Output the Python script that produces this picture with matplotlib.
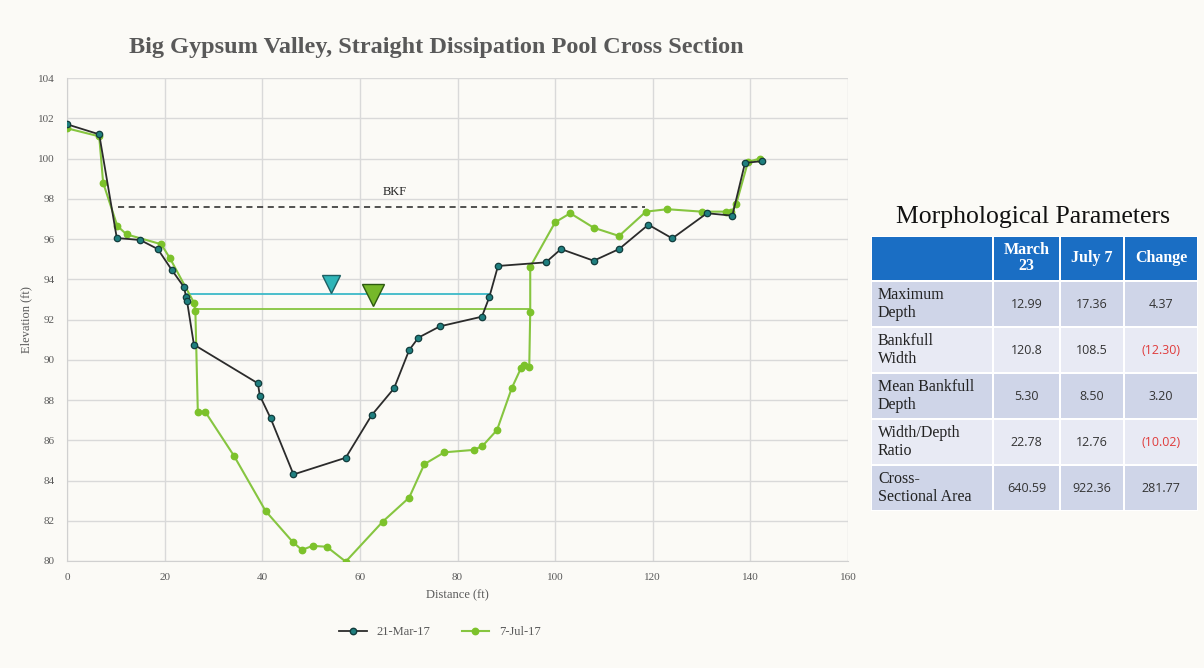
import matplotlib.pyplot as plt
from matplotlib.patches import Rectangle
from matplotlib.lines import Line2D

# ---- survey data ----
mar_x = [0, 6.6, 10.2, 15.0, 18.6, 21.5, 24.0, 24.4, 24.6, 26.0, 39.1, 39.5, 41.7, 46.4,
         57.1, 62.4, 67.0, 70.1, 72.0, 76.4, 85.0, 86.5, 88.3, 98.1, 101.2, 107.9,
         113.1, 119.1, 124.0, 131.1, 136.3, 138.9, 142.4]
mar_y = [101.7, 101.2, 96.05, 95.95, 95.5, 94.45, 93.6, 93.1, 92.9, 90.75, 88.83, 88.22,
         87.1, 84.3, 85.13, 87.24, 88.58, 90.48, 91.1, 91.66, 92.14, 93.1, 94.66, 94.84,
         95.5, 94.92, 95.5, 96.71, 96.03, 97.28, 97.16, 99.78, 99.87]

jul_x = [0, 6.6, 7.4, 10.3, 12.2, 19.3, 21.1, 26.0, 26.3, 26.8, 28.3, 34.2, 40.7, 46.2,
         48.1, 50.3, 53.2, 57.1, 64.7, 70.1, 73.2, 77.3, 83.3, 85.1, 88.1, 91.1, 93.0,
         93.7, 94.7, 94.9, 94.9, 100.0, 103.1, 107.9, 113.1, 118.6, 123.0, 130.0, 135.0,
         136.1, 137.1, 139.5, 142.0]
jul_y = [101.5, 101.1, 98.8, 96.65, 96.23, 95.74, 95.04, 92.84, 92.42, 87.42, 87.42,
         85.23, 82.48, 80.96, 80.55, 80.75, 80.71, 79.97, 81.96, 83.15, 84.81, 85.4,
         85.52, 85.71, 86.51, 88.58, 89.58, 89.74, 89.66, 92.39, 94.62, 96.83, 97.28,
         96.56, 96.15, 97.36, 97.48, 97.36, 97.36, 97.33, 97.74, 99.83, 100.0]

bkf_x = [10.4, 118.4]
bkf_y = 97.6
bkf_label_x = 67.2
mar_wse_x = [24.4, 86.5]
mar_wse = 93.27
mar_tri_x = 54.1
jul_wse_x = [26.3, 94.9]
jul_wse = 92.52
jul_tri_x = 62.7

# ---- table data ----
tbl_title = "Morphological Parameters"
col_heads = ["", "March\n23", "July 7", "Change"]
row_names = ["Maximum\nDepth", "Bankfull\nWidth", "Mean Bankfull\nDepth",
             "Width/Depth\nRatio", "Cross-\nSectional Area"]
march_vals = ["12.99", "120.8", "5.30", "22.78", "640.59"]
july_vals = ["17.36", "108.5", "8.50", "12.76", "922.36"]
change_vals = ["4.37", "(12.30)", "3.20", "(10.02)", "281.77"]

BG = "#fbfaf6"
SERIF = ["Liberation Serif", "DejaVu Serif"]
SANS = ["Open Sans", "DejaVu Sans"]

fig = plt.figure(figsize=(12.04, 6.68), dpi=100, facecolor=BG)
ax = fig.add_axes([67 / 1204, 1 - 561 / 668, 781 / 1204, 483 / 668])
ax.set_facecolor(BG)

ax.plot(bkf_x, [bkf_y, bkf_y], color="#222222", ls=(0, (4, 3)), lw=1.1)
ax.text(bkf_label_x, bkf_y + 0.45, "BKF", fontsize=9, family=SERIF, ha="center",
        va="bottom", color="#222222")
ax.plot(mar_wse_x, [mar_wse, mar_wse], color="#3cb9c8", lw=1.3)
ax.plot(jul_wse_x, [jul_wse, jul_wse], color="#86c540", lw=1.3)
ax.plot([mar_tri_x], [mar_wse + 0.5], marker="v", ms=13, color="#2fb5b8",
        mec="#1d5f63", mew=1.0, ls="none")
ax.plot([jul_tri_x], [jul_wse + 0.68], marker="v", ms=16, color="#76b82a",
        mec="#2d5a10", mew=1.0, ls="none")

ax.plot(jul_x, jul_y, color="#86c540", lw=1.5, marker="o", ms=4.6,
        mfc="#7cc22b", mec="#7cc22b", zorder=3)
ax.plot(mar_x, mar_y, color="#2b2b2b", lw=1.3, marker="o", ms=4.6,
        mfc="#1f7f7f", mec="#123c3c", mew=0.9, zorder=4)

ax.set_xlim(0, 160)
ax.set_ylim(80, 104)
ax.set_xticks(range(0, 161, 20))
ax.set_yticks(range(80, 105, 2))
ax.grid(True, color="#d9d9d9", lw=1.0)
ax.set_axisbelow(True)
for s in ["top", "right"]:
    ax.spines[s].set_visible(False)
for s in ["left", "bottom"]:
    ax.spines[s].set_color("#d0d0d0")
ax.tick_params(length=0, labelsize=8, labelcolor="#595959", pad=9)
for lab in ax.get_xticklabels() + ax.get_yticklabels():
    lab.set_family(SERIF)
ax.set_xlabel("Distance (ft)", fontsize=9, color="#595959", family=SERIF, labelpad=5)
ax.set_ylabel("Elevation (ft)", fontsize=9, color="#595959", family=SERIF, labelpad=4)

fig.text(436 / 1204, 1 - 48 / 668,
         "Big Gypsum Valley, Straight Dissipation Pool Cross Section",
         ha="center", va="center", fontsize=17.5, fontweight="bold", color="#595959",
         family=SERIF)

handles = [Line2D([], [], color="#2b2b2b", lw=1.3, marker="o", ms=4.6,
                  mfc="#1f7f7f", mec="#123c3c"),
           Line2D([], [], color="#86c540", lw=1.5, marker="o", ms=4.6,
                  mfc="#7cc22b", mec="#7cc22b")]
fig.legend(handles, ["21-Mar-17", "7-Jul-17"], loc="center", ncol=2, frameon=False,
           bbox_to_anchor=(440 / 1204, 1 - 632 / 668), prop={"family": SERIF, "size": 9},
           labelcolor="#595959", handlelength=2.2, columnspacing=2.5)

# ---- table ----
tax = fig.add_axes([0, 0, 1, 1], facecolor="none")
tax.set_xlim(0, 1204)
tax.set_ylim(668, 0)
tax.axis("off")
tax.text(1033, 217, tbl_title, ha="center", va="center", fontsize=18.5,
         family=SERIF, color="#111111")

col_edges = [871, 993, 1060, 1124, 1198]
row_edges = [236, 281, 327, 373, 419, 465, 511]
tax.add_patch(Rectangle((871, 236), 327, 275, facecolor="white", edgecolor="none"))
for c in range(4):
    x0, x1 = col_edges[c], col_edges[c + 1]
    tax.add_patch(Rectangle((x0 + 1, 237), x1 - x0 - 2, 43, facecolor="#1a6ec4",
                            edgecolor="none"))
    tax.text((x0 + x1) / 2, 258, col_heads[c], ha="center", va="center", fontsize=11.5,
             fontweight="bold", color="white", family=SERIF, linespacing=1.0)
for r in range(5):
    y0, y1 = row_edges[r + 1], row_edges[r + 2]
    fill = "#cfd5e8" if r % 2 == 0 else "#e8eaf4"
    for c in range(4):
        x0, x1 = col_edges[c], col_edges[c + 1]
        tax.add_patch(Rectangle((x0 + 1, y0 + 1), x1 - x0 - 2, y1 - y0 - 2,
                                facecolor=fill, edgecolor="none"))
    ym = (y0 + y1) / 2
    tax.text(878, ym, row_names[r], ha="left", va="center", fontsize=11.5,
             family=SERIF, color="#222222", linespacing=1.15)
    tax.text(1026.5, ym, march_vals[r], ha="center", va="center", fontsize=9,
             family=SANS, color="#333333")
    tax.text(1092, ym, july_vals[r], ha="center", va="center", fontsize=9,
             family=SANS, color="#333333")
    red = change_vals[r].startswith("(")
    tax.text(1161, ym, change_vals[r], ha="center", va="center", fontsize=9,
             family=SANS, color="#e03c3c" if red else "#333333")

fig.savefig("out.png", dpi=100, facecolor=BG)
